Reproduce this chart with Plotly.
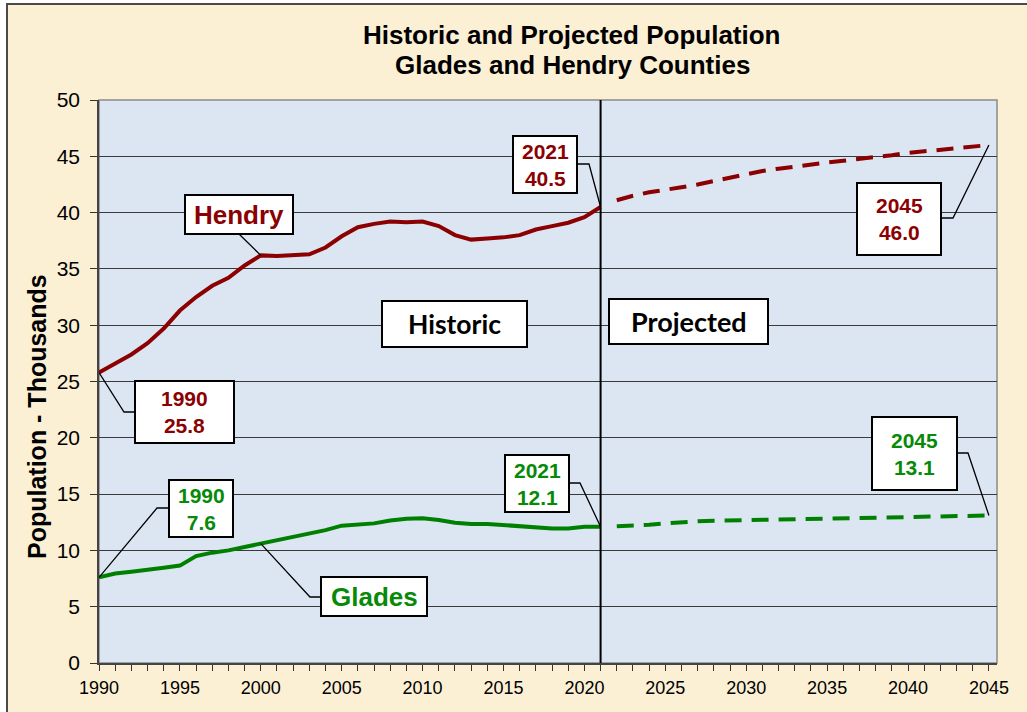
import plotly.graph_objects as go

# ---------------- data ----------------
years_hist = list(range(1990, 2022))
hendry_hist = [25.8, 26.6, 27.4, 28.4, 29.7, 31.3, 32.5, 33.5, 34.2, 35.3, 36.2,
               36.15, 36.2, 36.3, 36.9, 37.9, 38.7, 39.0, 39.2, 39.15, 39.2,
               38.8, 38.0, 37.6, 37.7, 37.8, 38.0, 38.5, 38.8, 39.1, 39.6, 40.5]
glades_hist = [7.6, 7.95, 8.1, 8.25, 8.45, 8.65, 9.5, 9.8, 10.0, 10.3, 10.6,
               10.9, 11.2, 11.5, 11.8, 12.2, 12.3, 12.4, 12.65, 12.8, 12.85,
               12.7, 12.45, 12.35, 12.35, 12.25, 12.2, 12.1, 11.95, 11.95, 12.1, 12.1]

years_proj = list(range(2022, 2046))
hendry_proj = [41.1, 41.5, 41.8, 42.0, 42.25, 42.5, 42.8, 43.1, 43.45, 43.7, 43.9, 44.1,
               44.3, 44.45, 44.6, 44.75, 44.95, 45.1, 45.3, 45.45, 45.6, 45.75, 45.9, 46.0]
glades_proj = [12.15, 12.2, 12.28, 12.4, 12.52, 12.58, 12.63, 12.66, 12.7, 12.73, 12.75, 12.77,
               12.8, 12.82, 12.84, 12.87, 12.9, 12.92, 12.95, 12.97, 13.0, 13.02, 13.05, 13.1]

x_tick_vals = list(range(1990, 2046))
x_tick_text = [str(y) if y % 5 == 0 else "" for y in x_tick_vals]
y_tick_vals = list(range(0, 51, 5))

divider_year = 2021
title_lines = ["Historic and Projected Population", "Glades and Hendry Counties"]
y_title = "Population - Thousands"

# ---------------- layout geometry ----------------
W, H = 1027, 712
PL, PR, PT, PB = 99, 997, 100, 663
XR = [1990, 2045.5]
YR = [0, 50]

RED = "#8B0000"
GREEN = "#008000"
GREEN_TXT = "#078A07"
BEIGE = "#FBEFD4"
BLUE_BG = "#DCE6F2"


def dx(px):
    return XR[0] + (px - PL) / (PR - PL) * (XR[1] - XR[0])


def dy(py):
    return YR[0] + (PB - py) / (PB - PT) * (YR[1] - YR[0])


def pxp(px):
    return (px - PL) / (PR - PL)


def pyp(py):
    return (PB - py) / (PB - PT)


fig = go.Figure()

fig.add_trace(go.Scatter(x=years_hist, y=hendry_hist, mode="lines",
                         line=dict(color=RED, width=4), hoverinfo="skip", showlegend=False))
fig.add_trace(go.Scatter(x=years_hist, y=glades_hist, mode="lines",
                         line=dict(color=GREEN, width=4), hoverinfo="skip", showlegend=False))
fig.add_trace(go.Scatter(x=years_proj, y=hendry_proj, mode="lines",
                         line=dict(color=RED, width=4, dash="17px,10px"), hoverinfo="skip", showlegend=False))
fig.add_trace(go.Scatter(x=years_proj, y=glades_proj, mode="lines",
                         line=dict(color=GREEN, width=4, dash="17px,10px"), hoverinfo="skip", showlegend=False))

shapes = []
# background parchment with border
shapes.append(dict(type="rect", xref="paper", yref="paper",
                   x0=pxp(7), x1=pxp(1040), y0=pyp(4), y1=pyp(730),
                   fillcolor=BEIGE, line=dict(color="#4a4a4a", width=2), layer="below"))
# plot area
shapes.append(dict(type="rect", xref="paper", yref="paper", x0=0, x1=1, y0=0, y1=1,
                   fillcolor=BLUE_BG, line=dict(color="#8a8a8a", width=1.5), layer="below"))
# divider
shapes.append(dict(type="line", xref="x", yref="y", x0=divider_year, x1=divider_year,
                   y0=YR[0], y1=YR[1], line=dict(color="black", width=2), layer="above"))

annotations = []

h_idx_2000 = years_hist.index(2000)
callouts = [
    ((185, 195, 293, 234), "Hendry", RED, 26, "Liberation Sans", [(239, 234)],
     (2000, hendry_hist[h_idx_2000])),
    ((513, 136, 577, 193), f"{years_hist[-1]}<br>{hendry_hist[-1]:.1f}", RED, 21, "Liberation Sans",
     [(577, 164), (589, 164)], (years_hist[-1], hendry_hist[-1])),
    ((135, 381, 234, 443), f"{years_hist[0]}<br>{hendry_hist[0]:.1f}", RED, 21, "Liberation Sans",
     [(135, 412), (124, 412)], (years_hist[0], hendry_hist[0])),
    ((169, 480, 233, 537), f"{years_hist[0]}<br>{glades_hist[0]:.1f}", GREEN_TXT, 21, "Liberation Sans",
     [(169, 508), (157, 508)], (years_hist[0], glades_hist[0])),
    ((321, 577, 427, 616), "Glades", GREEN_TXT, 26, "Liberation Sans",
     [(321, 597), (310, 597)], (2000, glades_hist[h_idx_2000])),
    ((505, 455, 569, 512), f"{years_hist[-1]}<br>{glades_hist[-1]:.1f}", GREEN_TXT, 21, "Liberation Sans",
     [(569, 483), (580, 483)], (years_hist[-1], glades_hist[-1])),
    ((857, 183, 941, 255), f"{years_proj[-1]}<br>{hendry_proj[-1]:.1f}", RED, 21, "Liberation Sans",
     [(941, 218), (953, 218)], (years_proj[-1], hendry_proj[-1])),
    ((872, 417, 957, 490), f"{years_proj[-1]}<br>{glades_proj[-1]:.1f}", GREEN_TXT, 21, "Liberation Sans",
     [(957, 453), (968, 453)], (years_proj[-1], glades_proj[-1])),
    ((382, 301, 527, 347), "Historic", "black", 26.5, "Lato", [], None),
    ((609, 299, 768, 344), "Projected", "black", 27, "Lato", [], None),
]

for box, text, color, size, fam, leader, anchor in callouts:
    if anchor is not None:
        pts = [(dx(px), dy(py)) for px, py in leader] + [anchor]
        path = "M " + " L ".join(f"{x},{y}" for x, y in pts)
        shapes.append(dict(type="path", xref="x", yref="y", path=path,
                           line=dict(color="black", width=1.3), layer="above"))
for box, text, color, size, fam, leader, anchor in callouts:
    x0, y0, x1, y1 = box
    shapes.append(dict(type="rect", xref="x", yref="y", x0=dx(x0), x1=dx(x1), y0=dy(y1), y1=dy(y0),
                       fillcolor="white", line=dict(color="black", width=2), layer="above"))
    annotations.append(dict(x=dx((x0 + x1) / 2), y=dy((y0 + y1) / 2), xref="x", yref="y",
                            text=f"<b>{text}</b>", showarrow=False, xanchor="center", yanchor="middle",
                            align="center",
                            font=dict(family=fam, size=size, color=color)))

# title
for line_text, ypx in zip(title_lines, (35, 65)):
    annotations.append(dict(x=pxp(572), y=pyp(ypx), xref="paper", yref="paper", text=f"<b>{line_text}</b>",
                            showarrow=False, xanchor="center", yanchor="middle",
                            font=dict(family="Liberation Sans", size=26, color="black")))
# y title
annotations.append(dict(x=pxp(37), y=pyp(417), xref="paper", yref="paper", text=f"<b>{y_title}</b>",
                        showarrow=False, xanchor="center", yanchor="middle", textangle=-90,
                        font=dict(family="Liberation Sans", size=25, color="black")))

fig.update_layout(
    width=W, height=H,
    margin=dict(l=PL, r=W - PR, t=PT, b=H - PB, pad=0),
    paper_bgcolor="white",
    plot_bgcolor="rgba(0,0,0,0)",
    shapes=shapes,
    annotations=annotations,
    showlegend=False,
    xaxis=dict(range=XR, tickmode="array", tickvals=x_tick_vals, ticktext=x_tick_text,
               ticks="outside", ticklen=6, tickcolor="#333", tickwidth=1,
               showgrid=False, zeroline=False, showline=True, linecolor="#444", linewidth=1.5,
               tickfont=dict(family="Liberation Sans", size=18, color="black"),
               ticklabelstandoff=2, fixedrange=True),
    yaxis=dict(range=YR, tickmode="array", tickvals=y_tick_vals,
               ticks="outside", ticklen=7, tickcolor="#333", tickwidth=1,
               showgrid=True, gridcolor="#3a3a3a", gridwidth=1.2,
               zeroline=False, showline=True, linecolor="#444", linewidth=1.5,
               tickfont=dict(family="Liberation Sans", size=21, color="black"),
               ticklabelstandoff=6, fixedrange=True),
)

fig.write_html("out.html", post_script="document.body.style.margin='0px';",
               config={"displayModeBar": False})
